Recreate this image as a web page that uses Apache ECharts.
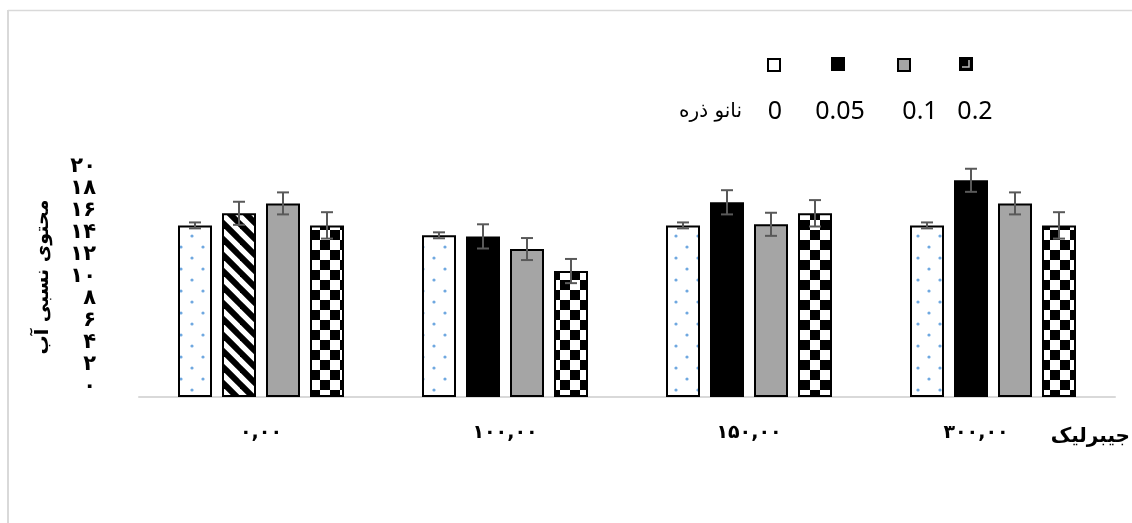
<!DOCTYPE html>
<html>
<head>
<meta charset="utf-8">
<script src="https://cdn.jsdelivr.net/npm/echarts@6/dist/echarts.min.js"></script>
<style>
  html, body { margin: 0; padding: 0; background: #fff; }
  #chart { width: 1132px; height: 523px; }
</style>
</head>
<body>
<div id="chart"></div>
<script>
// ---------- data ----------
const categories = ['۰,۰۰', '۱۰۰,۰۰', '۱۵۰,۰۰', '۳۰۰,۰۰'];
const seriesNames = ['0', '0.05', '0.1', '0.2'];
const values0   = [15.6, 14.7, 15.6, 15.6];
const values005 = [16.7, 14.6, 17.7, 19.7];
const values01  = [17.6, 13.45, 15.7, 17.6];
const values02  = [15.6, 11.45, 16.7, 15.6];
const err0   = [0.27, 0.27, 0.27, 0.27];
const err005 = [1.05, 1.1, 1.1, 1.05];
const err01  = [1.0, 1.0, 1.05, 1.0];
const err02  = [1.2, 1.1, 1.2, 1.2];
const yTickLabels = ['۰', '۲', '۴', '۶', '۸', '۱۰', '۱۲', '۱۴', '۱۶', '۱۸', '۲۰'];
const legendTitle = 'نانو ذره';
const xAxisName = 'جیبرلیک';
const yAxisName = 'محتوی نسبی آب';

const allValues = [values0, values005, values01, values02];
const allErrors = [err0, err005, err01, err02];

// ---------- patterns ----------
function makeCanvas(w, h, draw) {
  const c = document.createElement('canvas');
  c.width = w; c.height = h;
  draw(c.getContext('2d'));
  return c;
}
const dotsPattern = makeCanvas(22, 22, ctx => {
  ctx.fillStyle = '#fff'; ctx.fillRect(0, 0, 22, 22);
  ctx.fillStyle = '#6fa8e0';
  [[5, 5], [16, 16]].forEach(p => { ctx.beginPath(); ctx.arc(p[0], p[1], 1.6, 0, Math.PI * 2); ctx.fill(); });
});
const stripePattern = makeCanvas(16, 16, ctx => {
  ctx.fillStyle = '#fff'; ctx.fillRect(0, 0, 16, 16);
  ctx.strokeStyle = '#000'; ctx.lineWidth = 6;
  [-16, 0, 16].forEach(c => { ctx.beginPath(); ctx.moveTo(-2, c - 2); ctx.lineTo(18, 18 + c); ctx.stroke(); });
});
const checkerPattern = makeCanvas(20, 20, ctx => {
  ctx.fillStyle = '#fff'; ctx.fillRect(0, 0, 20, 20);
  ctx.fillStyle = '#000';
  ctx.fillRect(0, 0, 10, 10); ctx.fillRect(10, 10, 10, 10);
});
const legendIcon4 = makeCanvas(14, 14, ctx => {
  ctx.fillStyle = '#000'; ctx.fillRect(0, 0, 14, 14);
  ctx.strokeStyle = '#bbb'; ctx.lineWidth = 1.5;
  ctx.beginPath(); ctx.moveTo(10, 3); ctx.lineTo(10, 10); ctx.lineTo(3, 10); ctx.stroke();
}).toDataURL();

const fills = [
  { color: { image: dotsPattern, repeat: 'repeat' }, borderColor: '#000', borderWidth: 2 },
  { color: '#000', borderColor: '#000', borderWidth: 0 },
  { color: '#a5a5a5', borderColor: '#000', borderWidth: 2 },
  { color: { image: checkerPattern, repeat: 'repeat' }, borderColor: '#000', borderWidth: 2 }
];

const BAR_W = 34, BAR_STEP = 44;
const persianFont = '"DejaVu Sans", "Noto Sans", sans-serif';

const barSeries = seriesNames.map((name, si) => ({
  name: name,
  type: 'bar',
  barWidth: BAR_W,
  barGap: ((BAR_STEP - BAR_W) / BAR_W * 100) + '%',
  itemStyle: fills[si],
  data: allValues[si].map((v, ci) => {
    if (si === 1 && ci === 0) {
      return { value: v, itemStyle: { color: { image: stripePattern, repeat: 'repeat' }, borderColor: '#000', borderWidth: 2 } };
    }
    return v;
  }),
  z: 2
}));

const errSeries = seriesNames.map((name, si) => ({
  type: 'custom',
  name: 'err' + si,
  clip: false,
  z: 5,
  encode: { x: 0, y: 1 },
  data: allValues[si].map((v, ci) => [ci, v, allErrors[si][ci]]),
  renderItem: function (params, api) {
    const ci = api.value(0), v = api.value(1), e = api.value(2);
    const c = api.coord([ci, v]);
    const x = c[0] + (si - 1.5) * BAR_STEP;
    const yt = api.coord([ci, v + e])[1];
    const yb = api.coord([ci, v - e])[1];
    const st = { stroke: '#595959', lineWidth: 2 };
    return {
      type: 'group',
      children: [
        { type: 'line', shape: { x1: x, y1: yt, x2: x, y2: yb }, style: st },
        { type: 'line', shape: { x1: x - 6, y1: yt, x2: x + 6, y2: yt }, style: st },
        { type: 'line', shape: { x1: x - 6, y1: yb, x2: x + 6, y2: yb }, style: st }
      ]
    };
  }
}));

const legendLefts = [761, 826, 891, 954];
const legendItems = [
  { name: '0', itemStyle: { color: '#fff', borderColor: '#000', borderWidth: 2 }, w: 12 },
  { name: '0.05', itemStyle: { color: '#000', borderWidth: 0 }, w: 14 },
  { name: '0.1', itemStyle: { color: '#a5a5a5', borderColor: '#000', borderWidth: 2 }, w: 12 },
  { name: '0.2', icon: 'image://' + legendIcon4, itemStyle: { borderWidth: 0 }, w: 14 }
];
const legends = legendItems.map((it, i) => ({
  left: legendLefts[i] + (14 - it.w) / 2,
  top: 52 + (14 - it.w) / 2,
  itemWidth: it.w,
  itemHeight: it.w,
  selectedMode: false,
  formatter: () => '',
  data: [it.icon ? { name: it.name, icon: it.icon, itemStyle: it.itemStyle } : { name: it.name, icon: 'rect', itemStyle: it.itemStyle }]
}));

const legendLabelX = [775, 840, 920, 975];

const option = {
  animation: false,
  backgroundColor: '#fff',
  grid: { left: 139, right: 17, top: 177, bottom: 126, containLabel: false, outerBoundsMode: 'none' },
  legend: legends,
  xAxis: {
    type: 'category',
    data: categories.map((c, i) => i === 3 ? { value: c, textStyle: { padding: [0, 34, 0, 0] } } : c),
    axisLine: { show: true, lineStyle: { color: '#d9d9d9', width: 2 } },
    axisTick: { show: false },
    axisLabel: { color: '#000', fontSize: 19, fontWeight: 'bold', fontFamily: persianFont, margin: 27 },
    splitLine: { show: false }
  },
  yAxis: {
    type: 'value',
    min: 0, max: 20, interval: 2,
    axisLine: { show: false },
    axisTick: { show: false },
    splitLine: { show: false },
    axisLabel: {
      color: '#000', fontSize: 21, fontWeight: 'bold', fontFamily: persianFont,
      margin: 43, verticalAlign: 'bottom', lineHeight: 20,
      formatter: v => yTickLabels[Math.round(v / 2)]
    }
  },
  graphic: [
    { type: 'line', shape: { x1: 8, y1: 10.5, x2: 1132, y2: 10.5 }, style: { stroke: '#d9d9d9', lineWidth: 1.5 }, silent: true },
    { type: 'line', shape: { x1: 8, y1: 10, x2: 8, y2: 523 }, style: { stroke: '#d9d9d9', lineWidth: 2 }, silent: true },
    { type: 'text', x: 742, y: 112, style: { text: legendTitle, font: '20px ' + persianFont, fill: '#000', textAlign: 'right', textVerticalAlign: 'middle' } },
    ...seriesNames.map((n, i) => ({ type: 'text', x: legendLabelX[i], y: 112, style: { text: n, font: '25px "Noto Sans", sans-serif', fill: '#000', textAlign: 'center', textVerticalAlign: 'middle' } })),
    { type: 'text', x: 1130, y: 437, style: { text: xAxisName, font: 'bold 20px ' + persianFont, fill: '#000', textAlign: 'right', textVerticalAlign: 'middle' } },
    { type: 'text', x: 43, y: 277, rotation: Math.PI / 2, style: { text: yAxisName, font: 'bold 19px ' + persianFont, fill: '#000', textAlign: 'center', textVerticalAlign: 'middle' } }
  ],
  series: [...barSeries, ...errSeries]
};

const chart = echarts.init(document.getElementById('chart'));
chart.setOption(option);
</script>
</body>
</html>
